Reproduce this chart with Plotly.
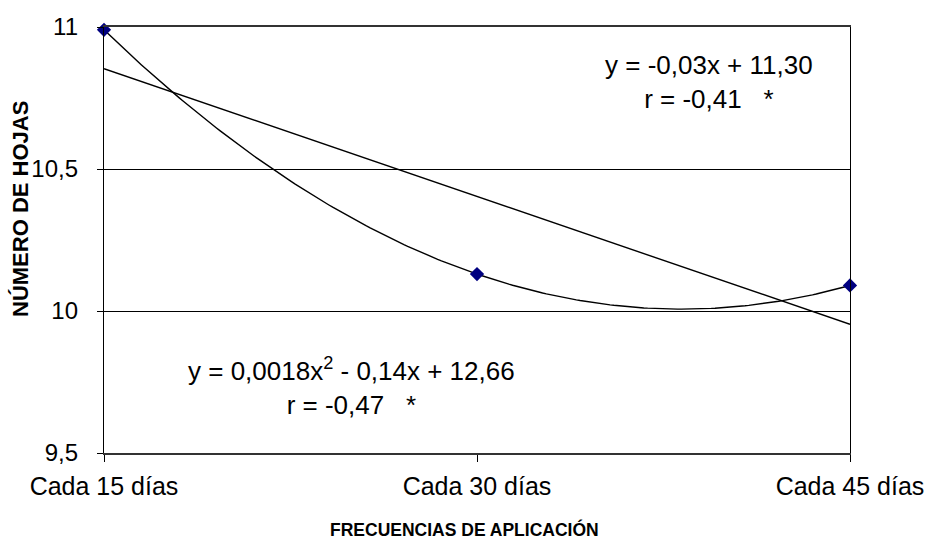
import numpy as np
import plotly.graph_objects as go

# Data
dias = [15, 30, 45]
x_labels = ["Cada 15 días", "Cada 30 días", "Cada 45 días"]
hojas = [10.99, 10.13, 10.09]
y_ticks = [9.5, 10, 10.5, 11]
y_tick_labels = ["9,5", "10", "10,5", "11"]
eq_lin = "y = -0,03x + 11,30<br>r = -0,41\u00a0\u00a0\u00a0*"
eq_quad = "y = 0,0018x<sup>2</sup> - 0,14x + 12,66<br>r = -0,47\u00a0\u00a0\u00a0*"

FONT = "Liberation Sans, Arial, sans-serif"

# trend lines fitted to the data
lin = np.polyfit(dias, hojas, 1)
quad = np.polyfit(dias, hojas, 2)
xs = np.linspace(min(dias), max(dias), 200)

fig = go.Figure()
fig.add_trace(go.Scatter(x=[dias[0], dias[-1]], y=np.polyval(lin, [dias[0], dias[-1]]),
                         mode="lines", line=dict(color="black", width=1.4),
                         hoverinfo="skip", cliponaxis=False))
fig.add_trace(go.Scatter(x=xs, y=np.polyval(quad, xs), mode="lines",
                         line=dict(color="black", width=1.4), hoverinfo="skip",
                         cliponaxis=False))
fig.add_trace(go.Scatter(x=dias, y=hojas, mode="markers",
                         marker=dict(symbol="diamond", size=11, color="#000080"),
                         cliponaxis=False))

fig.update_layout(
    width=926, height=540,
    margin=dict(l=104, r=76, t=27, b=87),
    paper_bgcolor="white", plot_bgcolor="white",
    showlegend=False,
    font=dict(family=FONT, size=24, color="black"),
    xaxis=dict(range=[15, 45], tickvals=dias, ticktext=x_labels, automargin=False,
               ticklabeloverflow="allow",
               showgrid=False, zeroline=False, showline=True, linecolor="#333333",
               linewidth=1.6, mirror=True, ticks="outside", ticklen=7,
               tickcolor="black", tickwidth=1, ticklabelstandoff=3,
               tickfont=dict(family=FONT, size=25, color="black")),
    yaxis=dict(range=[9.5, 11], tickvals=y_ticks, ticktext=y_tick_labels,
               automargin=False, ticklabeloverflow="allow",
               showgrid=True, gridcolor="black", gridwidth=1, zeroline=False,
               showline=True, linecolor="black", linewidth=1.4, mirror=True,
               ticks="outside", ticklen=6, tickcolor="black", tickwidth=1,
               ticklabelstandoff=14,
               tickfont=dict(family=FONT, size=24, color="black")),
    annotations=[
        dict(text=eq_lin, xref="paper", yref="paper", x=0.811, y=0.871,
             xanchor="center", yanchor="middle", showarrow=False, align="center",
             font=dict(family=FONT, size=26, color="black")),
        dict(text=eq_quad, xref="paper", yref="paper", x=0.332, y=0.155,
             xanchor="center", yanchor="middle", showarrow=False, align="center",
             font=dict(family=FONT, size=26, color="black")),
        dict(text="<b>FRECUENCIAS DE APLICACIÓN</b>", xref="paper", yref="paper",
             x=(464 - 104) / 746, y=-(529 - 453) / 426, xanchor="center",
             yanchor="middle", showarrow=False,
             font=dict(family=FONT, size=17.5, color="black")),
        dict(text="<b>NÚMERO DE HOJAS</b>", xref="paper", yref="paper",
             x=-(104 - 21) / 746, y=(453 - 209) / 426, xanchor="center",
             yanchor="middle", showarrow=False, textangle=-90,
             font=dict(family=FONT, size=22, color="black")),
    ],
)

fig.write_html("out.html")
